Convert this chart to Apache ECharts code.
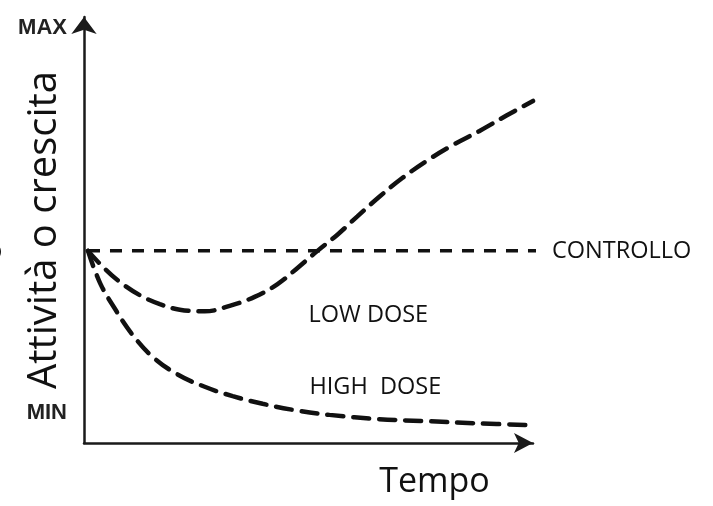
<!DOCTYPE html>
<html>
<head>
<meta charset="utf-8">
<script src="https://cdn.jsdelivr.net/npm/echarts@6/dist/echarts.min.js"></script>
<style>
  html, body { margin: 0; padding: 0; background: #fff; }
  #chart { width: 713px; height: 506px; }
</style>
</head>
<body>
<div id="chart"></div>
<script>
// --- dati (x: tempo, y: 0 = fondo, 100 = cima) ---
const xControllo = [4, 454];
const yControllo = [45.1, 45.1];

const xLowDose = [4, 20, 36, 56, 76, 96, 121, 146, 171, 194, 214, 234, 254, 274, 296, 319, 344, 370, 396, 423, 450];
const yLowDose = [45.1, 41.1, 37.8, 34.7, 32.6, 31.3, 30.9, 32.2, 34.3, 37.3, 41.1, 45.1, 48.9, 53.2, 57.8, 62.2, 66.3, 70.0, 73.2, 76.8, 80.3];

const xHighDose = [4, 16, 31, 48, 68, 93, 121, 149, 179, 209, 246, 296, 346, 396, 450];
const yHighDose = [45.1, 37.6, 31.5, 25.6, 20.4, 16.2, 13.2, 11.0, 9.2, 7.8, 6.6, 5.6, 5.1, 4.6, 4.2];

// etichette dell'asse y
const yTickValues = [7, 97.4];
const yTickLabels = ['MIN', 'MAX'];

// posizione delle etichette delle curve
const lowDoseLabelAt = [285, 30.0];
const highDoseLabelAt = [292, 13.1];

const zip = (xs, ys) => xs.map((x, i) => [x, ys[i]]);

const INK = '#111';
const LABEL_FONT = "'Open Sans', sans-serif";

const chart = echarts.init(document.getElementById('chart'), null, { renderer: 'canvas' });

const curveStyle = {
  color: INK,
  width: 4.5,
  type: [16, 10],
  cap: 'round'
};

const textLabel = (text, coord) => ({
  coord: coord,
  symbolSize: 0,
  label: {
    show: true,
    position: 'inside',
    formatter: text,
    color: INK,
    fontSize: 23.5,
    fontFamily: LABEL_FONT
  }
});

const option = {
  backgroundColor: '#fff',
  animation: false,
  grid: { left: 84, right: 180, top: 17, bottom: 63, containLabel: false, outerBoundsMode: 'none' },
  xAxis: {
    type: 'value',
    min: 0,
    max: 450,
    name: 'Tempo',
    nameLocation: 'middle',
    nameGap: 22,
    nameMoveOverlap: false,
    nameTextStyle: {
      color: INK,
      fontSize: 34,
      fontFamily: LABEL_FONT,
      padding: [0, 0, 0, 252]
    },
    axisLine: {
      show: true,
      symbol: ['none', 'arrow'],
      symbolSize: [15, 19],
      lineStyle: { color: '#1a1a1a', width: 2.5 }
    },
    axisTick: { show: false },
    axisLabel: { show: false },
    splitLine: { show: false }
  },
  yAxis: {
    type: 'value',
    min: 0,
    max: 100,
    name: 'Attività o crescita',
    nameLocation: 'middle',
    nameRotate: 90,
    nameGap: 19,
    nameMoveOverlap: false,
    nameTextStyle: {
      color: INK,
      fontSize: 40,
      fontFamily: LABEL_FONT
    },
    axisLine: {
      show: true,
      symbol: ['none', 'arrow'],
      symbolSize: [19, 17],
      lineStyle: { color: '#1a1a1a', width: 2.5 }
    },
    axisTick: { show: false },
    splitLine: { show: false },
    axisLabel: {
      show: true,
      customValues: yTickValues,
      margin: 17,
      color: '#222',
      fontSize: 22,
      fontWeight: 'bold',
      fontFamily: "'Liberation Sans', Arial, sans-serif",
      formatter: (v) => {
        const i = yTickValues.indexOf(v);
        return i >= 0 ? yTickLabels[i] : '';
      }
    }
  },
  series: [
    {
      name: 'CONTROLLO',
      type: 'line',
      data: zip(xControllo, yControllo),
      showSymbol: false,
      clip: false,
      lineStyle: { color: INK, width: 3.5, type: [12, 10] },
      endLabel: {
        show: true,
        formatter: 'CONTROLLO',
        distance: 16,
        color: INK,
        fontSize: 23.5,
        fontFamily: LABEL_FONT
      }
    },
    {
      name: 'LOW DOSE',
      type: 'line',
      data: zip(xLowDose, yLowDose),
      smooth: 0.4,
      showSymbol: false,
      lineStyle: curveStyle,
      markPoint: { symbol: 'circle', data: [textLabel('LOW DOSE', lowDoseLabelAt)] }
    },
    {
      name: 'HIGH DOSE',
      type: 'line',
      data: zip(xHighDose, yHighDose),
      smooth: 0.4,
      showSymbol: false,
      lineStyle: curveStyle,
      markPoint: { symbol: 'circle', data: [textLabel('HIGH  DOSE', highDoseLabelAt)] }
    }
  ],
  graphic: [
    {
      // lettera tagliata sul bordo sinistro
      type: 'text',
      x: -26,
      y: 262,
      rotation: Math.PI / 2,
      style: { text: 'o', fill: INK, fontSize: 34, fontFamily: LABEL_FONT }
    }
  ]
};

chart.setOption(option);
</script>
</body>
</html>
